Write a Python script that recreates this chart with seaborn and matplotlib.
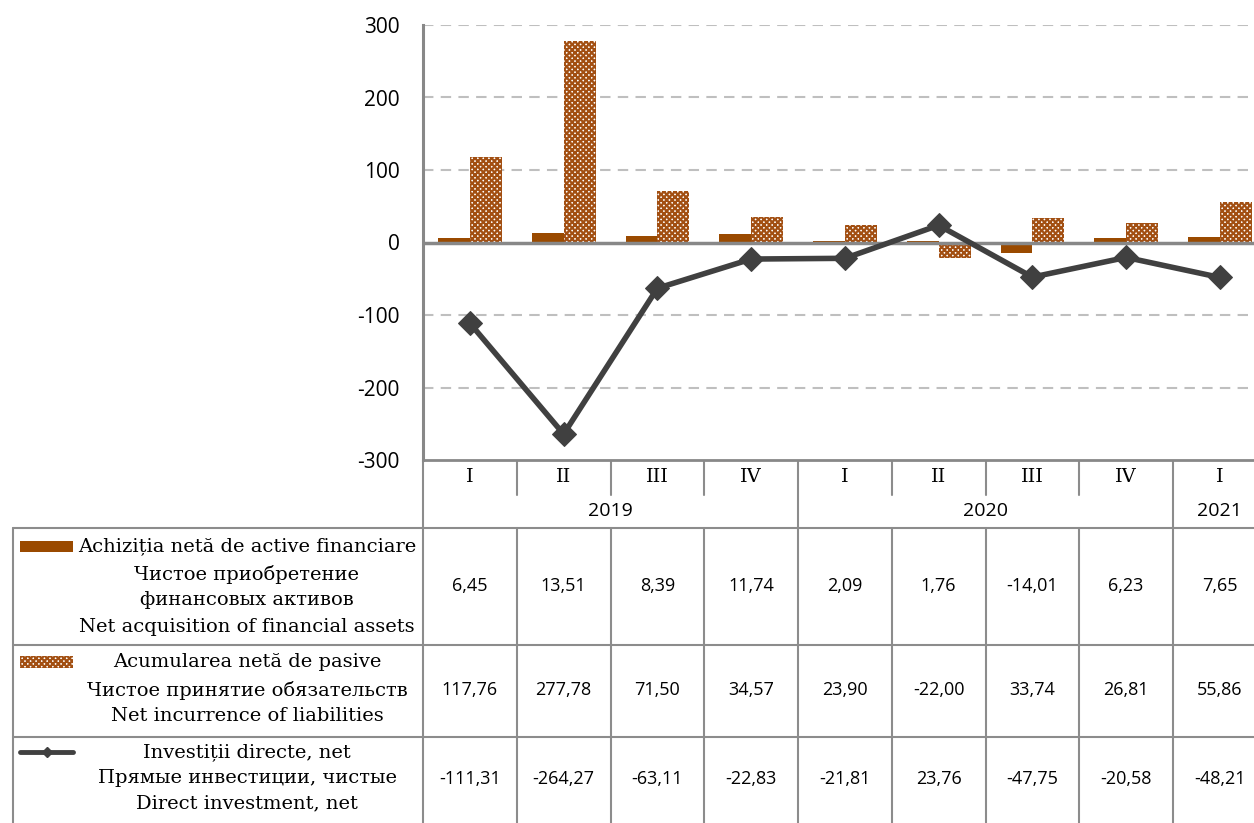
import numpy as np
import pandas as pd
import matplotlib
matplotlib.use("Agg")
import matplotlib.pyplot as plt
from matplotlib.patches import Rectangle
from matplotlib.lines import Line2D
import seaborn as sns

# ---------------- data ----------------
quarters = ["I", "II", "III", "IV", "I", "II", "III", "IV", "I"]
years = ["2019", "2020", "2021"]
year_spans = [(0, 4), (4, 8), (8, 9)]
assets = [6.45, 13.51, 8.39, 11.74, 2.09, 1.76, -14.01, 6.23, 7.65]
liabilities = [117.76, 277.78, 71.50, 34.57, 23.90, -22.00, 33.74, 26.81, 55.86]
direct = [-111.31, -264.27, -63.11, -22.83, -21.81, 23.76, -47.75, -20.58, -48.21]
labels_assets = ["Achiziția netă de active financiare", "Чистое приобретение",
                 "финансовых активов", "Net acquisition of financial assets"]
labels_liab = ["Acumularea netă de pasive", "Чистое принятие обязательств",
               "Net incurrence of liabilities"]
labels_direct = ["Investiții directe, net", "Прямые инвестиции, чистые",
                 "Direct investment, net"]
yticks = [-300, -200, -100, 0, 100, 200, 300]

# ---------------- style ----------------
sns.set_style("white")
plt.rcParams["font.family"] = ["DejaVu Sans"]
plt.rcParams["text.color"] = "black"
plt.rcParams["ytick.color"] = "black"
plt.rcParams["hatch.linewidth"] = 1.6

C_SOLID = "#9A4A00"
C_HATCH = "#A24F12"
C_LINE = "#404040"
C_GRID = "#BFBFBF"
C_AXIS = "#888888"
C_TAB = "#8C8C8C"
SERIF = "DejaVu Serif"
SANS = "Open Sans"
HATCH = "xxxxxx"
FS_SERIF = 14
FS_NUM = 13

W, H = 1254, 823
fig = plt.figure(figsize=(W / 100, H / 100), dpi=100)

AX_L, CAT_W, AX_T, AX_B = 423, 93.75, 25, 460
n = len(quarters)
ax = fig.add_axes([AX_L / W, (H - AX_B) / H, n * CAT_W / W, (AX_B - AX_T) / H])

cats = [f"{i}" for i in range(n)]
df = pd.DataFrame({
    "cat": cats * 2,
    "series": ["assets"] * n + ["liab"] * n,
    "value": assets + liabilities,
})
sns.barplot(data=df, x="cat", y="value", hue="series", order=cats,
            hue_order=["assets", "liab"], palette=[C_SOLID, "white"],
            width=0.68, dodge=True, saturation=1, legend=False, ax=ax,
            linewidth=0, zorder=2)
for p in ax.containers[1]:
    p.set_hatch(HATCH)
    p.set_edgecolor(C_HATCH)
    p.set_linewidth(0)
for p in ax.containers[0]:
    p.set_edgecolor(C_SOLID)

ax.axhline(0, color=C_AXIS, lw=2.5, zorder=3)
sns.lineplot(x=np.arange(n), y=direct, ax=ax, color=C_LINE, lw=4.0,
             marker="D", markersize=12, markeredgecolor=C_LINE, zorder=4)

ax.set_xlim(-0.5, n - 0.5)
ax.set_ylim(-300, 300)
ax.set_yticks(yticks)
ax.set_yticklabels([str(v) for v in yticks], fontsize=15, family=SANS)
ax.tick_params(axis="y", length=0, pad=17)
ax.set_xticks([])
ax.set_xlabel("")
ax.set_ylabel("")
for v in [100, 200, 300, -100, -200]:
    ax.axhline(v, color=C_GRID, lw=1.5, ls=(0, (5, 3.5)), zorder=1)
for s in ["top", "right"]:
    ax.spines[s].set_visible(False)
ax.spines["left"].set_color(C_AXIS)
ax.spines["left"].set_linewidth(2.2)
ax.spines["bottom"].set_color(C_AXIS)
ax.spines["bottom"].set_linewidth(2.0)

# ---------------- table overlay ----------------
ov = fig.add_axes([0, 0, 1, 1], zorder=-1)
ov.set_xlim(0, W)
ov.set_ylim(H, 0)
ov.axis("off")


def hline(y, x0, x1):
    ov.add_line(Line2D([x0, x1], [y, y], color=C_TAB, lw=1.5))


def vline(x, y0, y1):
    ov.add_line(Line2D([x, x], [y0, y1], color=C_TAB, lw=1.5))


Q_B, Y_B = 495, 528
ROWS = [528, 645, 737, 823]
LEFT = 13
year_bounds = {e for _, e in year_spans}
for k in range(1, n + 1):
    x = AX_L + k * CAT_W
    vline(x, AX_B, Y_B if k in year_bounds else Q_B)
    vline(x, Y_B, H)
vline(AX_L, AX_B, H)
vline(LEFT, Y_B, H)
for y in ROWS[:-1]:
    hline(y, LEFT, W)

for k, q in enumerate(quarters):
    ov.text(AX_L + (k + 0.5) * CAT_W, 477, q, ha="center", va="center",
            fontsize=FS_SERIF, family=SERIF)
for yr, (s, e) in zip(years, year_spans):
    ov.text(AX_L + (s + e) / 2 * CAT_W, 511, yr, ha="center", va="center",
            fontsize=14, family=SANS)

LBL_X = 247
# row 1
ov.add_patch(Rectangle((20, 541), 53, 11, facecolor=C_SOLID, edgecolor=C_SOLID, lw=0))
ov.text(416, 546, labels_assets[0], ha="right", va="center", fontsize=FS_SERIF, family=SERIF)
for txt, y in zip(labels_assets[1:], [574, 600, 627]):
    ov.text(LBL_X, y, txt, ha="center", va="center", fontsize=FS_SERIF, family=SERIF)
# row 2
ov.add_patch(Rectangle((20, 656), 53, 12, facecolor="white", edgecolor=C_HATCH,
                       hatch=HATCH, lw=0))
for txt, y in zip(labels_liab, [662, 690, 716]):
    ov.text(LBL_X, y, txt, ha="center", va="center", fontsize=FS_SERIF, family=SERIF)
# row 3
ov.add_line(Line2D([20, 73], [752, 752], color=C_LINE, lw=3.5, solid_capstyle="round"))
ov.add_line(Line2D([46.5], [752], color=C_LINE, marker="D", markersize=5))
for txt, y in zip(labels_direct, [752, 778, 803]):
    ov.text(LBL_X, y, txt, ha="center", va="center", fontsize=FS_SERIF, family=SERIF)


def fmt(v):
    return f"{v:.2f}".replace(".", ",")


for row_vals, y in zip([assets, liabilities, direct], [586, 690, 779]):
    for k, v in enumerate(row_vals):
        ov.text(AX_L + (k + 0.5) * CAT_W, y, fmt(v), ha="center", va="center",
                fontsize=FS_NUM, family=SANS)

fig.savefig("out.png", dpi=100)
